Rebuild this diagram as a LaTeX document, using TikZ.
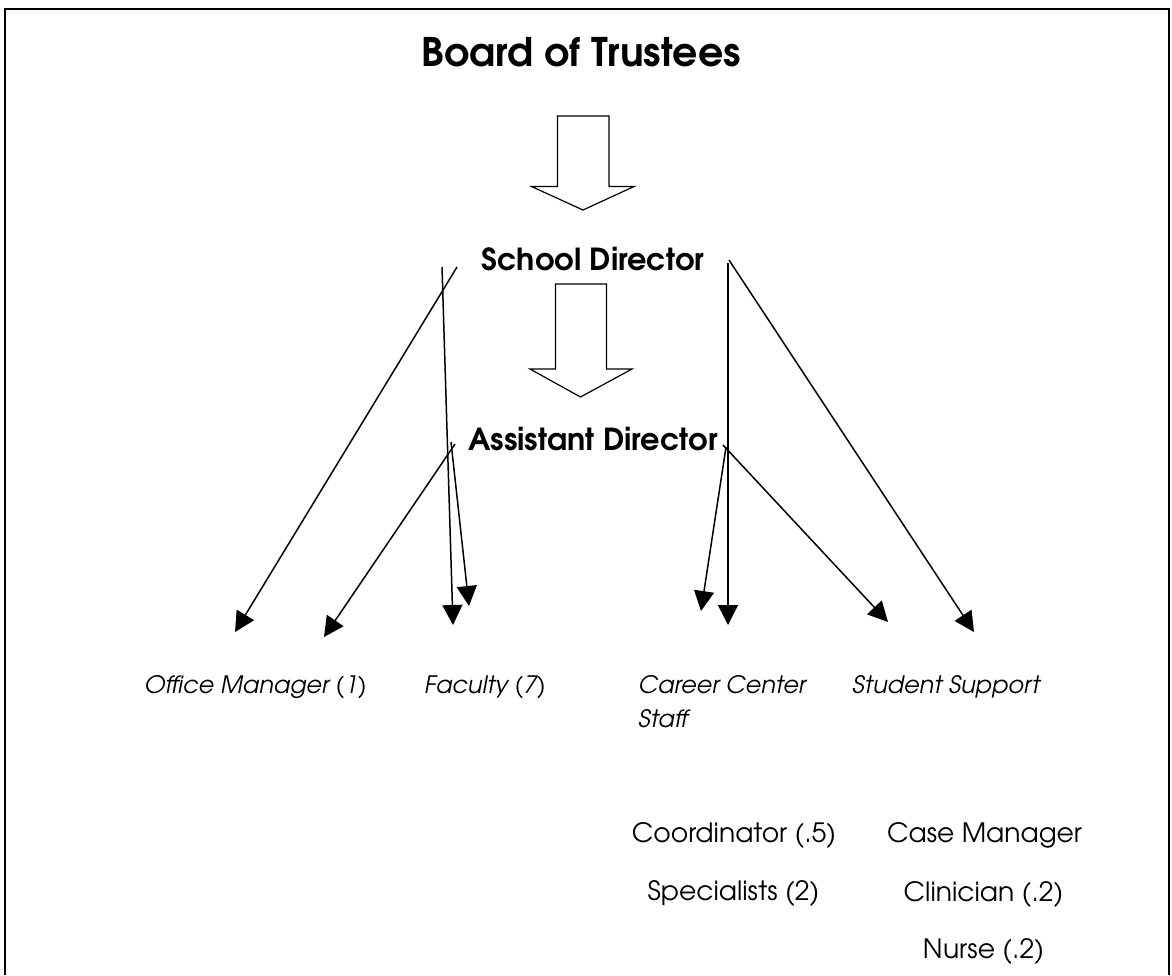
\documentclass[tikz,border=0pt]{standalone}
\usepackage{fontspec}
\setmainfont{texgyreadventor}[Extension=.otf, UprightFont=*-regular, BoldFont=*-bold, ItalicFont=*-italic, BoldItalicFont=*-bolditalic]
\usetikzlibrary{arrows.meta}
\begin{document}
\begin{tikzpicture}[x=0.5pt,y=-0.5pt,
  titletext/.style={font=\fontsize{19.7}{23}\selectfont\bfseries, inner sep=0pt, anchor=base},
  headtext/.style={font=\fontsize{15.2}{18}\selectfont\bfseries, inner sep=0pt, anchor=base},
  unittext/.style={font=\fontsize{12}{17}\selectfont\itshape, inner sep=0pt, anchor=base},
  stafftext/.style={font=\fontsize{13.3}{17}\selectfont, inner sep=0pt, anchor=base},
  link/.style={line width=0.75pt, -{Triangle[length=10pt,width=10pt]}},
  blockarrow/.style={draw, line width=0.6pt, fill=white, line join=miter}]
\useasboundingbox (0,0) rectangle (1172,975);
% frame
\draw[line width=1pt] (5,975) -- (5,9) -- (1169,9) -- (1169,975);
% texts
\node[titletext] (title) at (581,66) {Board of Trustees};
\node[headtext] (sd) at (593,270) {School Director};
\node[headtext] (ad) at (593,450) {Assistant Director};
\node[unittext] (om) at (255.5,693) {Office Manager (1)};
\node[unittext] (fac) at (485,693) {Faculty (7)};
\node[unittext, anchor=base west, align=left] (ccs) at (638,727) {Career Center\\Staff};
\node[unittext, anchor=base west] (ss) at (852,693) {Student Support};
\node[stafftext] (coord) at (734,842) {Coordinator (.5)};
\node[stafftext] (spec) at (733.5,900) {Specialists (2)};
\node[stafftext] (case) at (984.5,842) {Case Manager};
\node[stafftext] (clin) at (983.5,901) {Clinician (.2)};
\node[stafftext] (nurse) at (983.5,958) {Nurse (.2)};
% block arrows
\draw[blockarrow] (557.5,116) -- (609,116) -- (609,186.5) -- (634,186.5) -- (583,210) -- (531.5,186.5) -- (557.5,186.5) -- cycle;
\draw[blockarrow] (555.5,284) -- (606.5,284) -- (606.5,369) -- (632,369) -- (580.5,397) -- (530,369) -- (555.5,369) -- cycle;
% connector end points
\coordinate (sdA) at (457,267);
\coordinate (sdB) at (442,267);
\coordinate (sdC) at (728,263);
\coordinate (sdD) at (729,260);
\coordinate (adA) at (455,444);
\coordinate (adB) at (451,442);
\coordinate (adC) at (726,447);
\coordinate (adD) at (723,445);
\coordinate (omT1) at (235,632);
\coordinate (omT2) at (324,637);
\coordinate (facT1) at (453,625);
\coordinate (facT2) at (469,606);
\coordinate (ccT1) at (701,611);
\coordinate (ccT2) at (728,625);
\coordinate (ssT1) at (888,622);
\coordinate (ssT2) at (974,632);
% connectors
\draw[link] (sdA) -- (omT1);
\draw[link] (sdB) -- (facT1);
\draw[link] (sdC) -- (ccT2);
\draw[link] (sdD) -- (ssT2);
\draw[link] (adA) -- (omT2);
\draw[link] (adB) -- (facT2);
\draw[link] (adC) -- (ccT1);
\draw[link] (adD) -- (ssT1);
\end{tikzpicture}
\end{document}
